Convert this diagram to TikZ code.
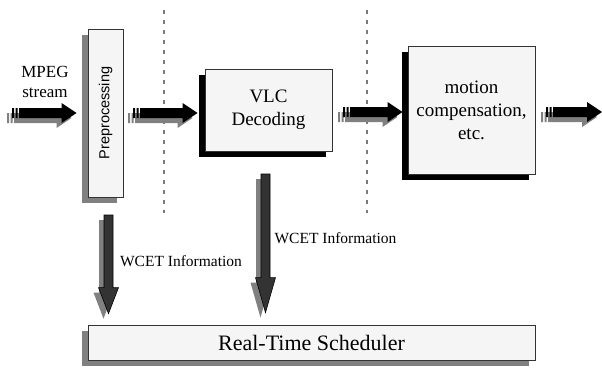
\documentclass[tikz,border=0pt]{standalone}
\usepackage{fontspec}
\setmainfont{Liberation Serif}
\newfontfamily\timesfont{Liberation Serif}
\newfontfamily\arialfont{Liberation Sans}
\usetikzlibrary{calc,shadows}

\definecolor{boxfill}{HTML}{F5F5F5}
\definecolor{shadowgray}{HTML}{808080}
\definecolor{arrowdark}{HTML}{333333}
\definecolor{dashgray}{HTML}{7A7A7A}

% horizontal block arrow: tail bars, shaft and triangular head
\newcommand\hblockarrow[3][]{%
  \path[#1] let \p1=(#2), \p2=(#3) in
    (\x1+7pt,\y1+5pt) -- (\x2-15pt,\y1+5pt) -- (\x2-15pt,\y1+10pt) -- (\x2,\y1)
    -- (\x2-15pt,\y1-10pt) -- (\x2-15pt,\y1-5pt) -- (\x1+7pt,\y1-5pt) -- cycle
    (\x1,\y1-5pt) rectangle (\x1+2pt,\y1+5pt)
    (\x1+3.5pt,\y1-5pt) rectangle (\x1+5.5pt,\y1+5pt);
}
% vertical block arrow pointing down; #4 is the head length
\newcommand\vblockarrow[4][]{%
  \path[#1] let \p1=(#2), \p2=(#3) in
    (\x1-4.5pt,\y1) -- (\x1-4.5pt,\y2+#4) -- (\x1-10pt,\y2+#4) -- (\x1,\y2)
    -- (\x1+10pt,\y2+#4) -- (\x1+4.5pt,\y2+#4) -- (\x1+4.5pt,\y1) -- cycle;
}

\tikzset{
  stagebox/.style={draw=black!80, line width=0.8pt, fill=boxfill, inner sep=0pt,
    rectangle, align=center},
  grayshadow/.style={general shadow={shadow xshift=-6pt, shadow yshift=-6pt,
    fill=shadowgray}},
  blackshadow/.style={general shadow={shadow xshift=-6pt, shadow yshift=-6pt,
    fill=black}},
  arrowshadow/.style={fill=shadowgray, transform canvas={xshift=-5pt, yshift=-5pt}},
  boxtext/.style={font=\timesfont\fontsize{19}{23}\selectfont},
  infolabel/.style={font=\timesfont\fontsize{15.5}{18}\selectfont, inner sep=0pt},
  divider/.style={dashgray, line width=1.2pt, dash pattern=on 4pt off 6pt},
}

\begin{document}
\begin{tikzpicture}[x=1pt, y=-1pt]
\useasboundingbox (0,0) rectangle (602,367);

% pipeline dividers
\coordinate (d1top) at (164,10);  \coordinate (d1bot) at (164,213);
\coordinate (d2top) at (367,10);  \coordinate (d2bot) at (367,213);
\draw[divider] (d1top) -- (d1bot);
\draw[divider] (d2top) -- (d2bot);

% processing stages
\node[stagebox, grayshadow, minimum width=35pt, minimum height=168pt,
  font=\arialfont\fontsize{14.5}{16}\selectfont]
  (pre) at (105.5,113) {\rotatebox{90}{Preprocessing}};
\node[stagebox, blackshadow, boxtext, minimum width=127pt, minimum height=82pt]
  (vlc) at (268.5,110) {VLC\\Decoding};
\node[stagebox, blackshadow, boxtext, minimum width=127pt, minimum height=128pt]
  (mc) at (471.5,110) {motion\\compensation,\\etc.};
\node[stagebox, grayshadow, minimum width=447pt, minimum height=35pt,
  font=\timesfont\fontsize{22}{25}\selectfont]
  (sched) at (311.5,342.5) {Real-Time Scheduler};

% input label
\node[font=\timesfont\fontsize{17}{20}\selectfont, align=center, inner sep=0pt]
  (mpeg) at (45,82) {MPEG\\stream};

% data-flow arrows
\coordinate (in1) at (12,113);  \coordinate (in1tip) at ($(pre.west)+(-11,0)$);
\coordinate (a2) at (133,113);  \coordinate (a2tip) at ($(vlc.west)+(-7,3)$);
\coordinate (a3) at (343,112);  \coordinate (a3tip) at ($(mc.west)+(-5,2)$);
\coordinate (a4) at (546,112);  \coordinate (a4tip) at (602,112);
\foreach \s/\e in {in1/in1tip, a2/a2tip, a3/a3tip, a4/a4tip}{
  \hblockarrow[arrowshadow]{\s}{\e}
  \hblockarrow[fill=black]{\s}{\e}
}

% WCET information arrows to the scheduler
\coordinate (w1) at (108.5,215);  \coordinate (w1tip) at ($(sched.north west)+(20.5,-11)$);
\coordinate (w2) at (265.5,174);  \coordinate (w2tip) at ($(sched.north west)+(177.5,-12)$);
\vblockarrow[arrowshadow]{w1}{w1tip}{26pt}
\vblockarrow[fill=arrowdark, draw=black, line width=0.6pt]{w1}{w1tip}{26pt}
\vblockarrow[arrowshadow]{w2}{w2tip}{35pt}
\vblockarrow[fill=arrowdark, draw=black, line width=0.6pt]{w2}{w2tip}{35pt}

\node[infolabel] (wcet1) at (181,261) {WCET Information};
\node[infolabel] (wcet2) at (335.5,238) {WCET Information};
\end{tikzpicture}
\end{document}
